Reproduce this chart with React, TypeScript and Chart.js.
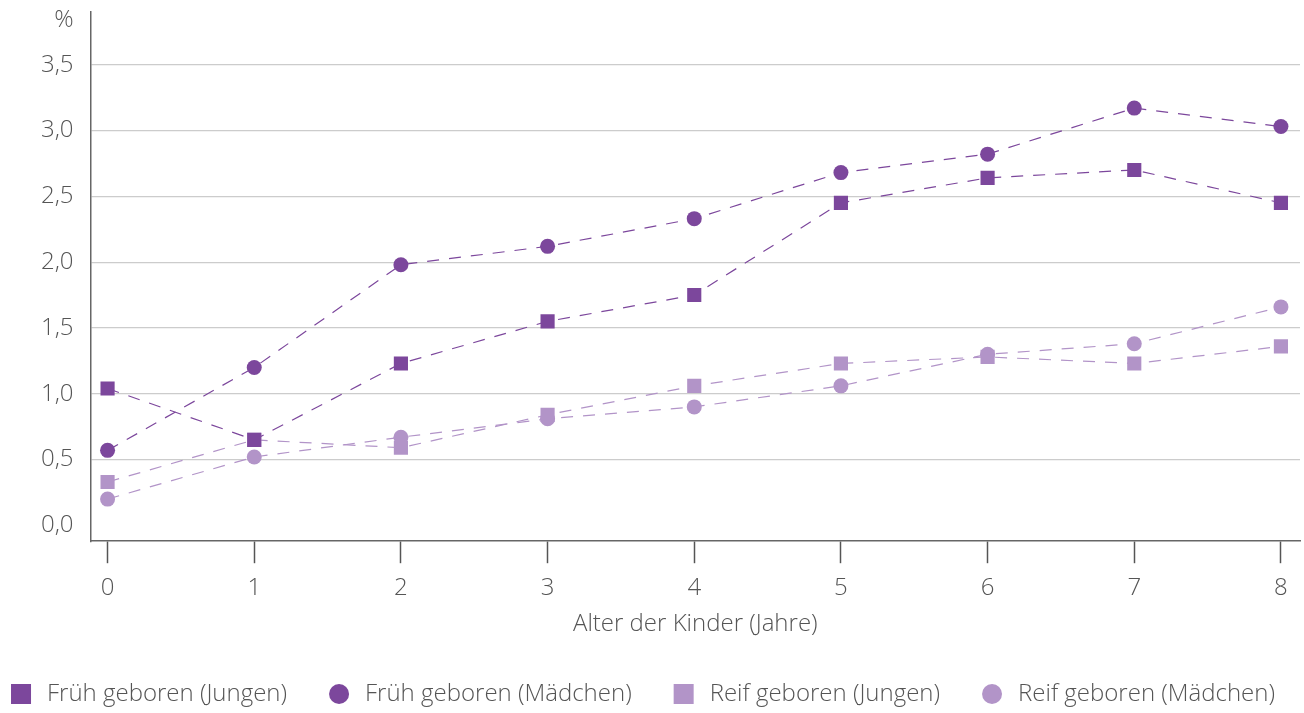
import React, { useEffect, useRef } from "react";
import { Chart, registerables } from "chart.js";

Chart.register(...registerables);

const ages = [0, 1, 2, 3, 4, 5, 6, 7, 8];
const fruehJungen = [1.04, 0.65, 1.23, 1.55, 1.75, 2.45, 2.64, 2.70, 2.45];
const fruehMaedchen = [0.57, 1.2, 1.98, 2.12, 2.33, 2.68, 2.82, 3.17, 3.03];
const reifJungen = [0.33, 0.65, 0.59, 0.84, 1.06, 1.23, 1.28, 1.23, 1.36];
const reifMaedchen = [0.2, 0.52, 0.67, 0.81, 0.9, 1.06, 1.3, 1.38, 1.66];
const yTicks = [0, 0.5, 1, 1.5, 2, 2.5, 3, 3.5];
const seriesLabels = [
  "Früh geboren (Jungen)",
  "Früh geboren (Mädchen)",
  "Reif geboren (Jungen)",
  "Reif geboren (Mädchen)",
];

const DARK = "#7c479c";
const LIGHT = "#b294c8";
const FONT = "'Open Sans', sans-serif";
const TICK_SIZE = 24;
const TEXT = "#555";

const legendPlugin = {
  id: "customLegend",
  afterDraw(chart: any) {
    const ctx = chart.ctx as CanvasRenderingContext2D;
    ctx.save();
    ctx.font = `300 24px ${FONT}`;
    ctx.textBaseline = "middle";
    ctx.textAlign = "left";
    const box = 20;
    const boxGap = 16;
    const gap = 42;
    const widths = seriesLabels.map((t) => box + boxGap + ctx.measureText(t).width);
    const total = widths.reduce((a, b) => a + b, 0) + gap * (seriesLabels.length - 1);
    let x = 643 - total / 2;
    const cy = 694;
    chart.data.datasets.forEach((ds: any, i: number) => {
      ctx.fillStyle = ds.backgroundColor;
      if (ds.pointStyle === "rect") {
        ctx.fillRect(x, cy - box / 2, box, box);
      } else {
        ctx.beginPath();
        ctx.arc(x + box / 2, cy, box / 2, 0, Math.PI * 2);
        ctx.fill();
      }
      ctx.fillStyle = TEXT;
      ctx.fillText(ds.label, x + box + boxGap, cy);
      x += widths[i] + gap;
    });
    ctx.restore();
  },
};

export default function App() {
  const ref = useRef<HTMLCanvasElement>(null);
  useEffect(() => {
    const mk = (label: string, data: number[], color: string, style: "rect" | "circle") => ({
      label,
      data: ages.map((a, i) => ({ x: a, y: data[i] })),
      borderColor: color,
      backgroundColor: color,
      borderWidth: 1.2,
      borderDash: [12, 10],
      pointStyle: style,
      pointRadius: style === "rect" ? 10 : 7.5,
      pointBorderWidth: 0,
      pointHoverRadius: style === "rect" ? 10 : 7.5,
      fill: false,
      tension: 0,
    });
    const chart = new Chart(ref.current!, {
      type: "line",
      data: {
        datasets: [
          mk(seriesLabels[0], fruehJungen, DARK, "rect"),
          mk(seriesLabels[1], fruehMaedchen, DARK, "circle"),
          mk(seriesLabels[2], reifJungen, LIGHT, "rect"),
          mk(seriesLabels[3], reifMaedchen, LIGHT, "circle"),
        ],
      },
      plugins: [legendPlugin],
      options: {
        animation: false,
        responsive: false,
        layout: { padding: { left: 24, right: 0, top: 12, bottom: 62 } },
        plugins: {
          tooltip: { enabled: false },
          legend: { display: false },
        },
        scales: {
          x: {
            type: "linear",
            min: -0.116,
            max: 8.13,
            afterBuildTicks: (s: any) => {
              s.ticks = ages.map((v) => ({ value: v }));
            },
            afterFit: (s: any) => {
              s.paddingLeft = 0;
              s.paddingRight = 0;
            },
            grid: {
              drawOnChartArea: false,
              drawTicks: true,
              tickLength: 22,
              tickColor: "#555",
              tickWidth: 1.5,
            },
            border: { color: "#666", width: 1.5 },
            ticks: {
              color: TEXT,
              padding: 13,
              font: { family: FONT, size: TICK_SIZE, weight: 300 as any, lineHeight: 1 },
              callback: (v: any) => String(v),
            },
            title: {
              display: true,
              text: "Alter der Kinder (Jahre)",
              color: TEXT,
              font: { family: FONT, size: TICK_SIZE, weight: 300 as any },
              padding: { top: -3, bottom: 12 },
            },
          },
          y: {
            type: "linear",
            min: -0.12,
            max: 3.9,
            afterBuildTicks: (s: any) => {
              s.ticks = [...yTicks, 3.84].map((v) => ({ value: v }));
            },
            afterFit: (s: any) => {
              s.paddingTop = 0;
              s.paddingBottom = 0;
            },
            grid: {
              drawTicks: false,
              color: (ctx: any) => {
                const v = ctx.tick ? ctx.tick.value : 0;
                return v === 0 || v > 3.6 ? "rgba(0,0,0,0)" : "#cccccc";
              },
              lineWidth: 1.2,
            },
            border: { color: "#666", width: 1.5 },
            ticks: {
              color: TEXT,
              padding: 17,
              font: { family: FONT, size: TICK_SIZE, weight: 300 as any },
              callback: (v: any) => (v > 3.6 ? "%" : Number(v).toFixed(1).replace(".", ",")),
            },
          },
        },
      },
    });
    return () => chart.destroy();
  }, []);
  return (
    <div style={{ position: "absolute", left: 0, top: 0, width: 1304, height: 713, overflow: "hidden" }}>
      <canvas ref={ref} width={1310} height={713} style={{ display: "block" }} />
    </div>
  );
}
